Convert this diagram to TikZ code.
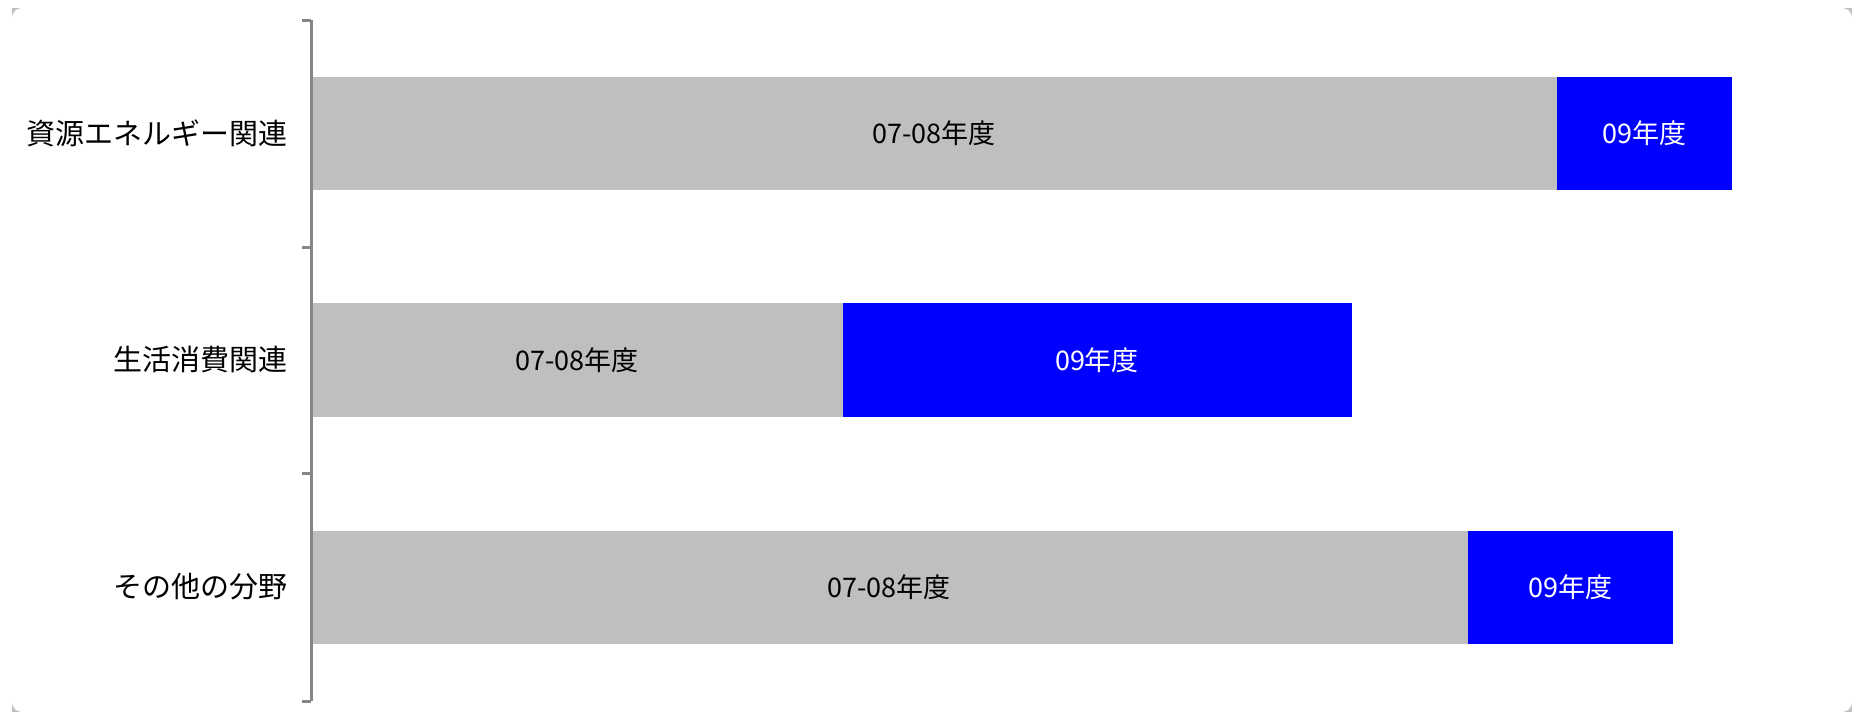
\documentclass[tikz,border=0pt]{standalone}
\usepackage{fontspec}
\setmainfont{Noto Sans CJK JP}
\definecolor{oldgray}{HTML}{BFBFBF}
\definecolor{newblue}{HTML}{0000FF}
\definecolor{axisgray}{HTML}{868686}
\begin{document}
\begin{tikzpicture}[x=1pt,y=-1pt,
  cat/.style={anchor=east,font=\fontsize{29}{34}\selectfont},
  val/.style={font=\fontsize{27}{32}\selectfont}]
\useasboundingbox (0,0) rectangle (1863,715);
\fill[black!25] (12,8) rectangle (1852,712);
\fill[white] (12,8) [rounded corners=10pt] rectangle (1852,712);

% bars
\fill[oldgray] (311,77) rectangle (1557,190);
\fill[newblue] (1557,77) rectangle (1732,190);
\fill[oldgray] (311,303) rectangle (843,417);
\fill[newblue] (843,303) rectangle (1352,417);
\fill[oldgray] (311,531) rectangle (1468,644);
\fill[newblue] (1468,531) rectangle (1673,644);

\node[val] (a1) at (934,133) {07-08年度};
\node[val,white] (b1) at (1644,133) {09年度};
\node[val] (a2) at (577,360) {07-08年度};
\node[val,white] (b2) at (1097,360) {09年度};
\node[val] (a3) at (889,587) {07-08年度};
\node[val,white] (b3) at (1570,587) {09年度};

% axis
\draw[axisgray,line width=3pt] (311,20) -- (311,701);
\foreach \y in {20,247,473,701}
  \draw[axisgray,line width=3pt] (302,\y) -- (311,\y);

\node[cat] (c1) at (291,133) {資源エネルギー関連};
\node[cat] (c2) at (291,360) {生活消費関連};
\node[cat] (c3) at (291,587) {その他の分野};

\end{tikzpicture}
\end{document}
